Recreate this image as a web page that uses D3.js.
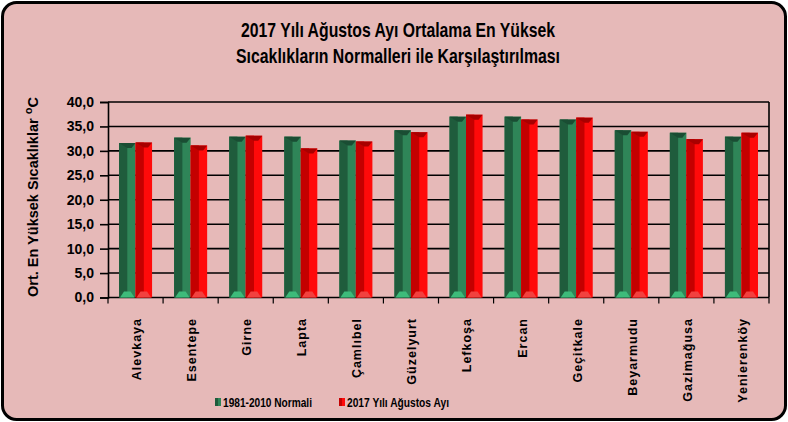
<!DOCTYPE html>
<html><head><meta charset="utf-8">
<script src="https://cdn.jsdelivr.net/npm/d3@7"></script>
<style>body{margin:0;background:#fff}svg{display:block}text{font-family:"Liberation Sans",Arial,sans-serif}</style>
</head><body>
<script>
const categories = ["Alevkaya","Esentepe","Girne","Lapta","Çamlıbel","Güzelyurt","Lefkoşa","Ercan","Geçitkale","Beyarmudu","Gazimağusa","Yenierenköy"];
const normali = [31.6,32.7,32.9,32.9,32.1,34.2,37.0,37.0,36.4,34.2,33.7,32.9];
const agustos2017 = [31.7,31.1,33.1,30.5,31.9,33.8,37.4,36.4,36.8,33.9,32.4,33.7];
const seriesNames = ["1981-2010  Normali","2017 Yılı Ağustos Ayı"];
const yTicks = [0,5,10,15,20,25,30,35,40];

const W=788,H=422;
const svg=d3.select("body").append("svg").attr("width",W).attr("height",H);
svg.append("rect").attr("x",2.5).attr("y",2.5).attr("width",W-5).attr("height",H-5).attr("rx",14)
  .attr("fill","#e6b9b8").attr("stroke","#000").attr("stroke-width",3);

// title
const title=svg.append("text").attr("text-anchor","middle").attr("font-weight","bold").attr("font-size",20.5).attr("fill","#000");
title.append("tspan").attr("x",398).attr("y",37).attr("textLength",314).attr("lengthAdjust","spacingAndGlyphs").text("2017 Yılı Ağustos Ayı Ortalama En Yüksek");
title.append("tspan").attr("x",398).attr("y",63).attr("textLength",324).attr("lengthAdjust","spacingAndGlyphs").text("Sıcaklıkların Normalleri ile Karşılaştırılması");

const L=108,R=769,T=102,B=297.5;
const x=d3.scaleBand().domain(categories).range([L,R]).paddingInner(0.4).paddingOuter(0.2);
const xs=d3.scaleBand().domain([0,1]).range([0,x.bandwidth()]);
const y=d3.scaleLinear().domain([0,40]).range([B,T]);

// grid
svg.append("g").selectAll("line").data(yTicks.filter(d=>d>0)).join("line")
  .attr("x1",L).attr("x2",R).attr("y1",d=>y(d)).attr("y2",d=>y(d)).attr("stroke","#000").attr("stroke-width",1.6);
svg.append("line").attr("x1",R).attr("x2",R).attr("y1",T).attr("y2",B).attr("stroke","#000").attr("stroke-width",1.6);

// y axis
const ya=svg.append("g").attr("transform",`translate(${L},0)`)
  .call(d3.axisLeft(y).tickValues(yTicks).tickSize(8).tickPadding(6).tickFormat(d=>d3.format(".1f")(d).replace(".",",")));
ya.select(".domain").attr("stroke","#000").attr("stroke-width",1.6);
ya.selectAll(".tick line").attr("stroke","#000").attr("stroke-width",1.6);
ya.selectAll("text").attr("font-size",14).attr("font-weight","bold").attr("fill","#000").style("font-family","Liberation Sans, Arial, sans-serif");

// x axis ticks at boundaries
const step=x.step();
const bounds=d3.range(categories.length+1).map(i=>L+i*step);
svg.append("line").attr("x1",L).attr("x2",R).attr("y1",B).attr("y2",B).attr("stroke","#000").attr("stroke-width",1.6);
svg.append("g").selectAll("line").data(bounds).join("line")
  .attr("x1",d=>d).attr("x2",d=>d).attr("y1",B).attr("y2",B+6).attr("stroke","#000").attr("stroke-width",1.2);

// x labels
svg.append("g").selectAll("text").data(categories).join("text")
  .attr("transform",d=>`translate(${x(d)+x.bandwidth()/2+1},318) rotate(-90)`)
  .attr("text-anchor","end").attr("dy","0.35em").attr("font-size",12.5).attr("font-weight","bold")
  .attr("letter-spacing",1).attr("fill","#000").text(d=>d);

// y title
const yt=svg.append("text").attr("transform","translate(38,297) rotate(-90)").attr("font-size",14.5).attr("font-weight","bold").attr("fill","#000");
yt.append("tspan").text("Ort. En Yüksek Sıcaklıklar ");
yt.append("tspan").attr("font-size",11).attr("dy",-6).text("o");
yt.append("tspan").attr("dy",6).text("C");

// bars
const pal=[{dark:"#1f5c3c",mid:"#2f8558",cap:"#1a4d33",bot:"#3dbb7a"},{dark:"#c40000",mid:"#ff0a0a",cap:"#a80000",bot:"#f2413f"}];
const data=categories.map((c,i)=>({c,v:[normali[i],agustos2017[i]]}));
const g=svg.append("g");
data.forEach(d=>{
  d.v.forEach((v,s)=>{
    const x0=x(d.c)+xs(s), w=xs.bandwidth(), x1=x0+w, xm=x0+w/2, top=y(v), bot=y(0), c=pal[s];
    g.append("rect").attr("x",x0).attr("y",top).attr("width",w).attr("height",bot-top).attr("fill",c.mid);
    g.append("rect").attr("x",x0).attr("y",top).attr("width",w/2).attr("height",bot-top).attr("fill",c.dark);
    g.append("polygon").attr("points",`${x0},${top} ${x1},${top} ${x1-4},${top+5} ${xm},${top+5}`).attr("fill",c.cap);
    g.append("polygon").attr("points",`${x0+1},${bot} ${x1-1},${bot} ${x1-5},${bot-6} ${x0+5},${bot-6}`).attr("fill",c.bot);
  });
});

// legend
const leg=svg.append("g");
const lx=[215,339];
seriesNames.forEach((n,i)=>{
  leg.append("rect").attr("x",lx[i]).attr("y",398).attr("width",3).attr("height",8).attr("fill",pal[i].dark);
  leg.append("rect").attr("x",lx[i]+3).attr("y",398).attr("width",3).attr("height",8).attr("fill",pal[i].mid);
  leg.append("text").attr("x",lx[i]+8).attr("y",407).attr("font-size",13).attr("fill","#000")
    .attr("textLength",i===0?89:102).attr("lengthAdjust","spacingAndGlyphs").attr("font-weight","bold").text(n);
});
</script>
</body></html>
